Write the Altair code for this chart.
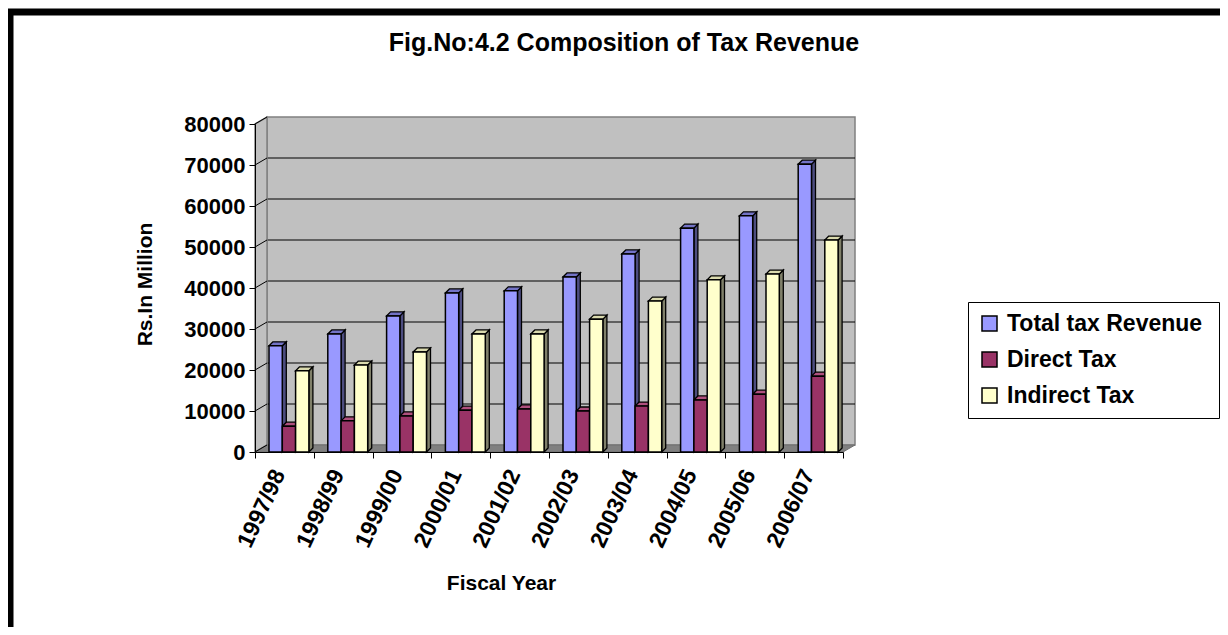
import altair as alt
import pandas as pd

# ---------------- data ----------------
years = ["1997/98", "1998/99", "1999/00", "2000/01", "2001/02",
         "2002/03", "2003/04", "2004/05", "2005/06", "2006/07"]
total_tax = [25900, 28800, 33200, 38800, 39300, 42700, 48300, 54600, 57600, 70200]
direct_tax = [6300, 7600, 8800, 10200, 10500, 10000, 11200, 12700, 14100, 18500]
indirect_tax = [19800, 21200, 24400, 28800, 28800, 32400, 36800, 42000, 43400, 51700]
series_names = ["Total tax  Revenue", "Direct Tax", "Indirect Tax"]
y_ticks = [0, 10000, 20000, 30000, 40000, 50000, 60000, 70000, 80000]

# ---------------- style ----------------
front_colors = ["#9999FF", "#993366", "#FFFFCC"]
side_colors = ["#4D4D80", "#4D1A33", "#80806A"]
top_colors = ["#7373C6", "#B0507E", "#DADAAE"]
FONT = "Liberation Sans"

W, H = 588, 328          # plot area in px
N = len(years)
YMAX = 80000
UX = N / W               # data units per px (x)
UY = YMAX / H            # data units per px (y)
BAR_LEFT = 14.0          # px from category start
BAR_W = 13.3             # px
DEPTH = 4.0              # px (bar depth)
WALL_DX, WALL_DY = 12.0, 7.0

# ---------------- tables ----------------
values = [total_tax, direct_tax, indirect_tax]
front, side, top = [], [], []
for i, yr in enumerate(years):
    for j, s in enumerate(series_names):
        v = values[j][i]
        x0 = i + (BAR_LEFT + j * BAR_W) * UX
        x1 = x0 + BAR_W * UX
        bid = f"{yr}-{j}"
        front.append({"year": yr, "series": s, "x0": x0, "x1": x1, "v": v, "zero": 0})
        side.append({"id": bid, "c": side_colors[j], "px": x1, "lo": 0, "hi": v})
        side.append({"id": bid, "c": side_colors[j], "px": x1 + DEPTH * UX,
                     "lo": DEPTH * UY, "hi": v + DEPTH * UY})
        top.append({"id": bid, "c": top_colors[j], "py": v, "l": x0, "r": x1})
        top.append({"id": bid, "c": top_colors[j], "py": v + DEPTH * UY,
                    "l": x0 + DEPTH * UX, "r": x1 + DEPTH * UX})
front_df = pd.DataFrame(front)
side_df = pd.DataFrame(side)
top_df = pd.DataFrame(top)

wdx, wdy = WALL_DX * UX, WALL_DY * UY
wall_df = pd.DataFrame([{"a": wdx, "b": N + wdx, "lo": wdy, "hi": YMAX + wdy}])
left_wall_df = pd.DataFrame([
    {"px": 0, "lo": 0, "hi": YMAX},
    {"px": wdx, "lo": wdy, "hi": YMAX + wdy},
])
floor_df = pd.DataFrame([
    {"py": 0, "l": 0, "r": N},
    {"py": wdy, "l": wdx, "r": N + wdx},
])
grid_df = pd.DataFrame([{"y": t + wdy, "a": wdx, "b": N + wdx} for t in y_ticks[1:-1]])
conn_df = pd.DataFrame([{"y": t, "y2": t + wdy, "a": 0, "b": wdx} for t in y_ticks])
label_df = pd.DataFrame({"year": years, "xc": [i + 0.5 for i in range(N)]})
one = pd.DataFrame({"k": [0]})

xs = alt.Scale(domain=[0, N], nice=False, zero=False)
ys = alt.Scale(domain=[0, YMAX], nice=False, zero=False)

x_axis = alt.Axis(
    values=list(range(N + 1)), labels=False, ticks=True, tickSize=6,
    tickColor="black", domainColor="black", domainWidth=1, grid=False,
    title="Fiscal Year", titleFont=FONT, titleFontSize=21, titleFontWeight="bold",
    titleColor="black", titleX=246, titleY=131, titleBaseline="middle",
    titleAlign="center", zindex=1)
y_axis = alt.Axis(
    values=y_ticks, format="d", tickSize=6, tickColor="black",
    domainColor="black", domainWidth=1, grid=False, labelPadding=4,
    labelFont=FONT, labelFontSize=22, labelFontWeight="bold", labelColor="black",
    title="Rs.In Million", titleFont=FONT, titleFontSize=21, titleFontWeight="bold",
    titleColor="black", titleX=-110, titleY=160, titleAngle=270,
    titleBaseline="middle", titleAlign="center", zindex=1)

# ---------------- layers ----------------
back_wall = alt.Chart(wall_df).mark_rect(fill="#C0C0C0", stroke="#808080", strokeWidth=1.5).encode(
    x=alt.X("a:Q", scale=xs, axis=x_axis), x2="b:Q",
    y=alt.Y("lo:Q", scale=ys, axis=y_axis), y2="hi:Q")

frame = alt.Chart(one).mark_rect(filled=False, stroke="black", strokeWidth=7).encode(
    x=alt.value(-245), x2=alt.value(1000), y=alt.value(-112), y2=alt.value(530))

title = alt.Chart(one).mark_text(
    text="Fig.No:4.2 Composition of Tax Revenue", font=FONT, fontSize=25,
    fontWeight="bold", align="center", baseline="middle", color="black"
).encode(x=alt.value(369), y=alt.value(-81))

grid = alt.Chart(grid_df).mark_rule(color="black", strokeWidth=1).encode(
    x=alt.X("a:Q", scale=xs), x2="b:Q",
    y=alt.Y("y:Q", scale=ys))

left_wall = alt.Chart(left_wall_df).mark_area(
    orient="vertical", fill="#C0C0C0", stroke="#808080", strokeWidth=1.5, opacity=1).encode(
    x=alt.X("px:Q", scale=xs),
    y=alt.Y("lo:Q", scale=ys), y2="hi:Q")

floor = alt.Chart(floor_df).mark_area(
    orient="horizontal", fill="#808080", stroke="#6E6E6E", strokeWidth=1, opacity=1).encode(
    y=alt.Y("py:Q", scale=ys),
    x=alt.X("l:Q", scale=xs), x2="r:Q")

connectors = alt.Chart(conn_df).mark_rule(color="black", strokeWidth=1).encode(
    x=alt.X("a:Q", scale=xs), x2="b:Q",
    y=alt.Y("y:Q", scale=ys), y2="y2:Q")

sides = alt.Chart(side_df).mark_area(
    orient="vertical", stroke="black", strokeWidth=1.3, opacity=1).encode(
    x=alt.X("px:Q", scale=xs),
    y=alt.Y("lo:Q", scale=ys), y2="hi:Q",
    fill=alt.Fill("c:N", scale=None, legend=None),
    detail="id:N")

tops = alt.Chart(top_df).mark_area(
    orient="horizontal", stroke="black", strokeWidth=1.3, opacity=1).encode(
    y=alt.Y("py:Q", scale=ys),
    x=alt.X("l:Q", scale=xs), x2="r:Q",
    fill=alt.Fill("c:N", scale=None, legend=None),
    detail="id:N")

fronts = alt.Chart(front_df).mark_rect(stroke="black", strokeWidth=1.5).encode(
    x=alt.X("x0:Q", scale=xs), x2="x1:Q",
    y=alt.Y("v:Q", scale=ys), y2="zero:Q",
    color=alt.Color("series:N", scale=alt.Scale(domain=series_names, range=front_colors),
                    legend=alt.Legend(
                        title=None, orient="none", legendX=713, legendY=178,
                        symbolType="square", symbolSize=225, symbolStrokeColor="black",
                        symbolStrokeWidth=1.5, symbolOpacity=1,
                        labelFont=FONT, labelFontSize=23, labelFontWeight="bold",
                        labelColor="black", labelLimit=400, labelOffset=6,
                        rowPadding=12, padding=10, strokeColor="black",
                        fillColor="white")),
    tooltip=["year:N", "series:N", "v:Q"])

xlabels = alt.Chart(label_df).mark_text(
    angle=295, align="right", baseline="middle", font=FONT, fontSize=23,
    fontWeight="bold", color="black", xOffset=-5).encode(
    x=alt.X("xc:Q", scale=xs), y=alt.value(H + 19), text="year:N")

chart = alt.layer(
    back_wall, frame, title, grid, left_wall, floor, connectors,
    sides, tops, fronts, xlabels
).properties(
    width=W, height=H,
    autosize=alt.AutoSizeParams(type="none"),
    padding={"left": 247, "top": 116, "right": 377, "bottom": 175},
    background="white",
).configure_view(stroke=None).configure(font=FONT)

chart.save("out.html", embed_options={"renderer": "svg", "actions": False})
